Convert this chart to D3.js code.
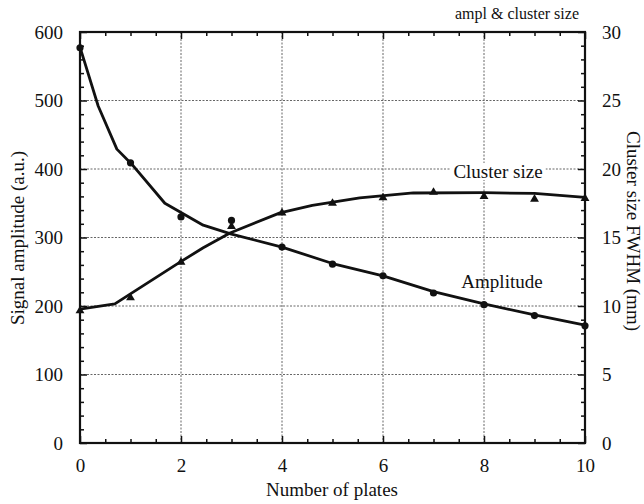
<!DOCTYPE html>
<html>
<head>
<meta charset="utf-8">
<script src="https://cdn.jsdelivr.net/npm/d3@7"></script>
<style>
  html, body { margin: 0; padding: 0; background: #fff; }
  svg { display: block; }
  text { font-family: "Liberation Serif", "Times New Roman", serif; fill: #111; }
</style>
</head>
<body>
<svg id="chart" width="644" height="504"></svg>
<script>
// Measured points
const plates = [0, 1, 2, 3, 4, 5, 6, 7, 8, 9, 10];
const amplitude = [577, 409, 330, 325, 286, 261, 244, 219, 202, 186, 171];
const clusterSize = [9.65, 10.6, 13.2, 15.8, 16.8, 17.5, 17.9, 18.3, 18.0, 17.8, 17.85];

// Fitted curves
const ampFitX = [0, 0.36, 0.73, 1.05, 1.68, 2.44, 3.0, 4.0, 5, 6, 7, 8, 9, 10];
const ampFit = [578, 492, 429, 405, 350, 318, 305, 286, 262, 244, 221, 203, 187, 172];
const clusterFitX = [0, 0.69, 1.98, 2.44, 2.97, 3.96, 4.6, 5.54, 6.6, 8, 9, 10];
const clusterFit = [9.78, 10.15, 13.2, 14.25, 15.33, 16.8, 17.35, 17.9, 18.25, 18.27, 18.22, 17.93];

// Tick values
const xTicks = [0, 2, 4, 6, 8, 10];
const yLeftTicks = [0, 100, 200, 300, 400, 500, 600];
const yRightTicks = [0, 5, 10, 15, 20, 25, 30];

const FONT = '"Liberation Serif", "Times New Roman", serif';
const svg = d3.select("#chart");
const L = 80, R = 585, T = 32, B = 443;

const x = d3.scaleLinear().domain([0, 10]).range([L, R]);
const yL = d3.scaleLinear().domain([0, 600]).range([B, T]);
const yR = d3.scaleLinear().domain([0, 30]).range([B, T]);

// Grid
const grid = svg.append("g").attr("stroke", "#666").attr("stroke-width", 1)
  .attr("stroke-dasharray", "2,1.5").attr("fill", "none");
xTicks.filter(v => v > 0 && v < 10).forEach(v => {
  grid.append("line").attr("x1", x(v)).attr("x2", x(v)).attr("y1", T).attr("y2", B);
});
yLeftTicks.filter(v => v > 0 && v < 600).forEach(v => {
  grid.append("line").attr("x1", L).attr("x2", R).attr("y1", yL(v)).attr("y2", yL(v));
});

// Axes with inward ticks
function styleAxis(g) {
  g.attr("font-family", FONT).attr("font-size", 19);
  g.select(".domain").remove();
  g.selectAll(".tick line").attr("stroke", "#111").attr("stroke-width", 1.5);
  g.selectAll("text").style("font-family", FONT).style("font-size", "19px").attr("fill", "#111");
}

const minorX = d3.range(0, 10.01, 0.5).filter(v => v % 2 !== 0);
const minorYL = d3.range(0, 600.1, 20).filter(v => v % 100 !== 0);
const minorYR = d3.range(0, 30.01, 1).filter(v => v % 5 !== 0);

// bottom
svg.append("g").attr("transform", `translate(0,${B})`)
  .call(d3.axisBottom(x).tickValues(xTicks).tickSize(-7).tickPadding(16).tickFormat(d3.format("d")))
  .call(styleAxis);
svg.append("g").attr("transform", `translate(0,${B})`)
  .call(d3.axisBottom(x).tickValues(minorX).tickSize(-4).tickFormat(""))
  .call(styleAxis);
// top
svg.append("g").attr("transform", `translate(0,${T})`)
  .call(d3.axisTop(x).tickValues(xTicks).tickSize(-7).tickFormat(""))
  .call(styleAxis);
svg.append("g").attr("transform", `translate(0,${T})`)
  .call(d3.axisTop(x).tickValues(minorX).tickSize(-4).tickFormat(""))
  .call(styleAxis);
// left
svg.append("g").attr("transform", `translate(${L},0)`)
  .call(d3.axisLeft(yL).tickValues(yLeftTicks).tickSize(-7).tickPadding(17).tickFormat(d3.format("d")))
  .call(styleAxis);
svg.append("g").attr("transform", `translate(${L},0)`)
  .call(d3.axisLeft(yL).tickValues(minorYL).tickSize(-4).tickFormat(""))
  .call(styleAxis);
// right
svg.append("g").attr("transform", `translate(${R},0)`)
  .call(d3.axisRight(yR).tickValues(yRightTicks).tickSize(-7).tickPadding(17).tickFormat(d3.format("d")))
  .call(styleAxis);
svg.append("g").attr("transform", `translate(${R},0)`)
  .call(d3.axisRight(yR).tickValues(minorYR).tickSize(-4).tickFormat(""))
  .call(styleAxis);

// Frame
svg.append("rect").attr("x", L).attr("y", T).attr("width", R - L).attr("height", B - T)
  .attr("fill", "none").attr("stroke", "#111").attr("stroke-width", 2.2);

// Fitted curves
const ampLine = d3.line().x(d => x(d[0])).y(d => yL(d[1]));
const cluLine = d3.line().x(d => x(d[0])).y(d => yR(d[1]));
svg.append("path").datum(d3.zip(ampFitX, ampFit)).attr("d", ampLine)
  .attr("fill", "none").attr("stroke", "#111").attr("stroke-width", 2.8).attr("stroke-linejoin", "round");
svg.append("path").datum(d3.zip(clusterFitX, clusterFit)).attr("d", cluLine)
  .attr("fill", "none").attr("stroke", "#111").attr("stroke-width", 2.8).attr("stroke-linejoin", "round");

// Points
svg.append("g").selectAll("circle").data(d3.zip(plates, amplitude)).join("circle")
  .attr("cx", d => x(d[0])).attr("cy", d => yL(d[1])).attr("r", 3.6).attr("fill", "#111");
const tri = d3.symbol().type(d3.symbolTriangle).size(34);
svg.append("g").selectAll("path").data(d3.zip(plates, clusterSize)).join("path")
  .attr("d", tri).attr("fill", "#111")
  .attr("transform", d => `translate(${x(d[0])},${yR(d[1])})`);

// Curve labels (the cluster label masks the grid line behind it)
const clBg = svg.append("rect").attr("fill", "#fff");
const cl = svg.append("text").attr("x", 498).attr("y", 178).attr("text-anchor", "middle")
  .style("font-size", "19px").text("Cluster size");
const bb = cl.node().getBBox();
clBg.attr("x", bb.x - 3).attr("y", bb.y + 2).attr("width", bb.width + 6).attr("height", bb.height - 4);
svg.append("text").attr("x", 502).attr("y", 288).attr("text-anchor", "middle")
  .style("font-size", "19px").text("Amplitude");

// Titles
svg.append("text").attr("x", 517).attr("y", 19).attr("text-anchor", "middle")
  .style("font-size", "16px").text("ampl & cluster size");
svg.append("text").attr("x", 332).attr("y", 496).attr("text-anchor", "middle")
  .style("font-size", "19px").text("Number of plates");
svg.append("text").attr("transform", "translate(24,238) rotate(-90)").attr("text-anchor", "middle")
  .style("font-size", "19px").text("Signal amplitude (a.u.)");
svg.append("text").attr("transform", "translate(627,231) rotate(90)").attr("text-anchor", "middle")
  .style("font-size", "19px").text("Cluster size FWHM (mm)");
</script>
</body>
</html>
